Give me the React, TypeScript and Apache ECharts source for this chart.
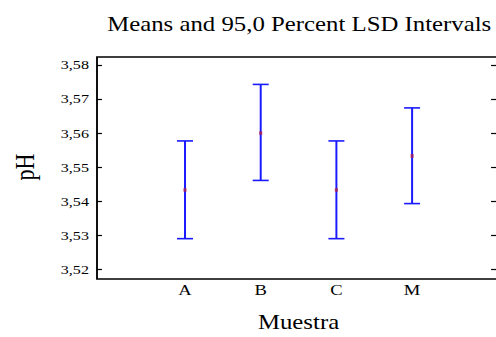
import React, { useEffect, useRef } from 'react';
import * as echarts from 'echarts';

const categories = ['A', 'B', 'C', 'M'];
const means = [3.5433, 3.56, 3.5433, 3.5533];
const lower = [3.529, 3.5461, 3.529, 3.5393];
const upper = [3.5577, 3.5743, 3.5577, 3.5674];
const yMin = 3.52;
const yMax = 3.58;
const yStep = 0.01;

const FONT = '"Liberation Serif", "DejaVu Serif", serif';
// The reference is drawn horizontally stretched; we render on a narrower canvas and stretch it.
const S = 1.24;
const W = 496;
const H = 337;
const X = (px: number) => px / S;

export default function App() {
  const ref = useRef<HTMLDivElement>(null);
  useEffect(() => {
    if (!ref.current) return;
    const chart = echarts.init(ref.current, null, { renderer: 'svg' });
    const barData = categories.map((c, i) => [c, lower[i], upper[i]]);
    const meanData = categories.map((c, i) => [c, means[i]]);
    const fmt = (v: number) => v.toFixed(2).replace('.', ',');
    const boxLeft = X(97);
    const boxRight = X(498);
    const plotLeft = X(147.15);
    const plotWidth = X(302.8);
    chart.setOption({
      animation: false,
      backgroundColor: '#fff',
      title: {
        text: 'Means and 95,0 Percent LSD Intervals',
        left: X(293),
        textAlign: 'center',
        top: 9,
        textStyle: { fontFamily: FONT, fontSize: 20, fontWeight: 'normal', color: '#000' },
      },
      grid: [
        { left: boxLeft, top: 57, width: boxRight - boxLeft, height: 222, show: true, borderColor: '#000', borderWidth: 1.5, backgroundColor: 'transparent' },
        { left: plotLeft, top: 65, width: plotWidth, height: 208.3 },
      ],
      xAxis: [
        { type: 'value', gridIndex: 0, show: false, min: 0, max: 1 },
        {
          type: 'category',
          gridIndex: 1,
          data: categories,
          boundaryGap: true,
          position: 'bottom',
          offset: 5.7,
          axisLine: { show: false },
          axisTick: { show: false },
          axisLabel: { fontFamily: FONT, fontSize: 15, color: '#000', margin: 8 },
          name: 'Muestra',
          nameLocation: 'middle',
          nameGap: 37,
          nameTextStyle: { fontFamily: FONT, fontSize: 20, color: '#000' },
          splitLine: { show: false },
        },
      ],
      yAxis: [
        { type: 'value', gridIndex: 0, show: false, min: 0, max: 1 },
        {
          type: 'value',
          gridIndex: 1,
          position: 'left',
          offset: plotLeft - boxLeft,
          min: yMin,
          max: yMax,
          interval: yStep,
          axisLine: { show: false },
          axisTick: { show: true, inside: true, length: 4, lineStyle: { color: '#000', width: 1.2 } },
          axisLabel: { fontFamily: FONT, fontSize: 13, color: '#000', margin: 6.5, formatter: fmt },
          splitLine: { show: false },
          name: 'pH',
          nameLocation: 'middle',
          nameRotate: 90,
          nameGap: 47,
          nameTextStyle: { fontFamily: FONT, fontSize: 22, color: '#000' },
        },
        {
          type: 'value',
          gridIndex: 1,
          position: 'right',
          offset: boxRight - (plotLeft + plotWidth),
          min: yMin,
          max: yMax,
          interval: yStep,
          axisLine: { show: false },
          axisTick: { show: true, inside: true, length: 5.6, lineStyle: { color: '#000', width: 1.2 } },
          axisLabel: { show: false },
          splitLine: { show: false },
        },
      ],
      series: [
        {
          type: 'custom',
          xAxisIndex: 1,
          yAxisIndex: 1,
          data: barData,
          encode: { x: 0, y: [1, 2] },
          renderItem: (params: any, api: any) => {
            const x = api.value(0);
            const lo = api.coord([x, api.value(1)]);
            const hi = api.coord([x, api.value(2)]);
            const hw = X(8);
            const style = { stroke: '#1a1aff', lineWidth: 1.6 };
            return {
              type: 'group',
              children: [
                { type: 'line', shape: { x1: lo[0], y1: lo[1], x2: hi[0], y2: hi[1] }, style },
                { type: 'line', shape: { x1: lo[0] - hw, y1: lo[1], x2: lo[0] + hw, y2: lo[1] }, style },
                { type: 'line', shape: { x1: hi[0] - hw, y1: hi[1], x2: hi[0] + hw, y2: hi[1] }, style },
              ],
            };
          },
          z: 2,
        },
        {
          type: 'scatter',
          xAxisIndex: 1,
          yAxisIndex: 1,
          data: meanData,
          symbol: 'rect',
          symbolSize: [2.5, 3.5],
          itemStyle: { color: '#b0204f' },
          z: 3,
        },
      ],
    });
    return () => chart.dispose();
  }, []);
  return (
    <div style={{ position: 'fixed', left: 0, top: 0, width: W, height: H, overflow: 'hidden', background: '#fff' }}>
      <div
        ref={ref}
        style={{ width: X(W + 4), height: H, transform: `scaleX(${S})`, transformOrigin: 'left top' }}
      />
    </div>
  );
}
